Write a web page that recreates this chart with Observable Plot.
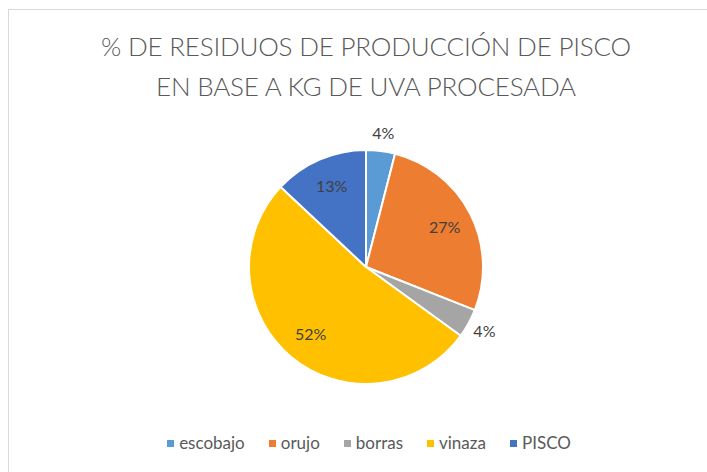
<!DOCTYPE html>
<html>
<head>
<meta charset="utf-8">
<script src="https://cdn.jsdelivr.net/npm/d3@7"></script>
<script src="https://cdn.jsdelivr.net/npm/@observablehq/plot@0.6"></script>
<style>
  html, body { margin: 0; padding: 0; background: #fff; }
  body { width: 707px; height: 472px; position: relative; overflow: hidden; font-family: Lato, "Open Sans", sans-serif; }
  #frame { position: absolute; left: 8px; top: 9px; width: 720px; height: 480px; border: 1px solid #d9d9d9; box-sizing: border-box; }
  #title { position: absolute; left: 0; top: 26px; width: 732px; text-align: center; color: #595959; font-size: 26px; line-height: 40px; font-weight: 300; letter-spacing: -0.2px; }
  #chart { position: absolute; left: 0; top: 100px; }
  #legend { position: absolute; left: 0; top: 432px; width: 738px; display: flex; justify-content: center; gap: 24px; color: #595959; font-size: 17px; }
  #legend span.sw { display: inline-block; width: 7px; height: 7px; margin-right: 5px; vertical-align: middle; position: relative; top: -1px; }
</style>
</head>
<body>
<div id="frame"></div>
<div id="title">% DE RESIDUOS DE PRODUCCIÓN DE PISCO<br>EN BASE A KG DE UVA PROCESADA</div>
<div id="chart"></div>
<div id="legend"></div>
<script>
const categories = ["escobajo", "orujo", "borras", "vinaza", "PISCO"];
const values = [4, 27, 4, 52, 13];
const colors = ["#5B9BD5", "#ED7D31", "#A5A5A5", "#FFC000", "#4472C4"];

const data = categories.map((c, i) => ({category: c, value: values[i]}));
const total = d3.sum(values);
const arcs = d3.pie().sort(null).value(d => d.value)(data);

const color = Plot.scale({color: {type: "categorical", domain: categories, range: colors}});

// label positions in radius units (x right, y up)
const labels = arcs.map(a => {
  const mid = (a.startAngle + a.endAngle) / 2;
  const pct = a.data.value / total * 100;
  const f = pct < 5 ? 1.15 : 0.75;
  return {category: a.data.category, text: Math.round(pct) + "%", x: f * Math.sin(mid), y: f * Math.cos(mid)};
});

const pieMark = (index, scales) => {
  const cx = scales.x(0), cy = scales.y(0);
  const r = Math.abs(scales.x(1) - scales.x(0));
  const arc = d3.arc().innerRadius(0).outerRadius(r);
  const g = d3.create("svg:g").attr("transform", `translate(${cx},${cy})`);
  g.selectAll("path").data(arcs).join("path")
    .attr("d", arc)
    .attr("fill", d => color.apply(d.data.category))
    .attr("stroke", "#fff")
    .attr("stroke-width", 2)
    .attr("stroke-linejoin", "round");
  return g.node();
};

const plot = Plot.plot({
  width: 707,
  height: 320,
  margin: 0,
  x: {domain: [-1, 1], range: [249, 483], axis: null},
  y: {domain: [-1, 1], range: [284, 50], axis: null},
  style: {background: "transparent", fontFamily: "Lato, 'Open Sans', sans-serif"},
  marks: [
    pieMark,
    Plot.text(labels, {x: "x", y: "y", text: "text", fill: "#404040", fontSize: 16})
  ]
});
document.getElementById("chart").appendChild(plot);

const legend = document.getElementById("legend");
categories.forEach(c => {
  const item = document.createElement("div");
  const sw = document.createElement("span");
  sw.className = "sw";
  sw.style.background = color.apply(c);
  item.appendChild(sw);
  item.appendChild(document.createTextNode(c));
  legend.appendChild(item);
});
</script>
</body>
</html>
